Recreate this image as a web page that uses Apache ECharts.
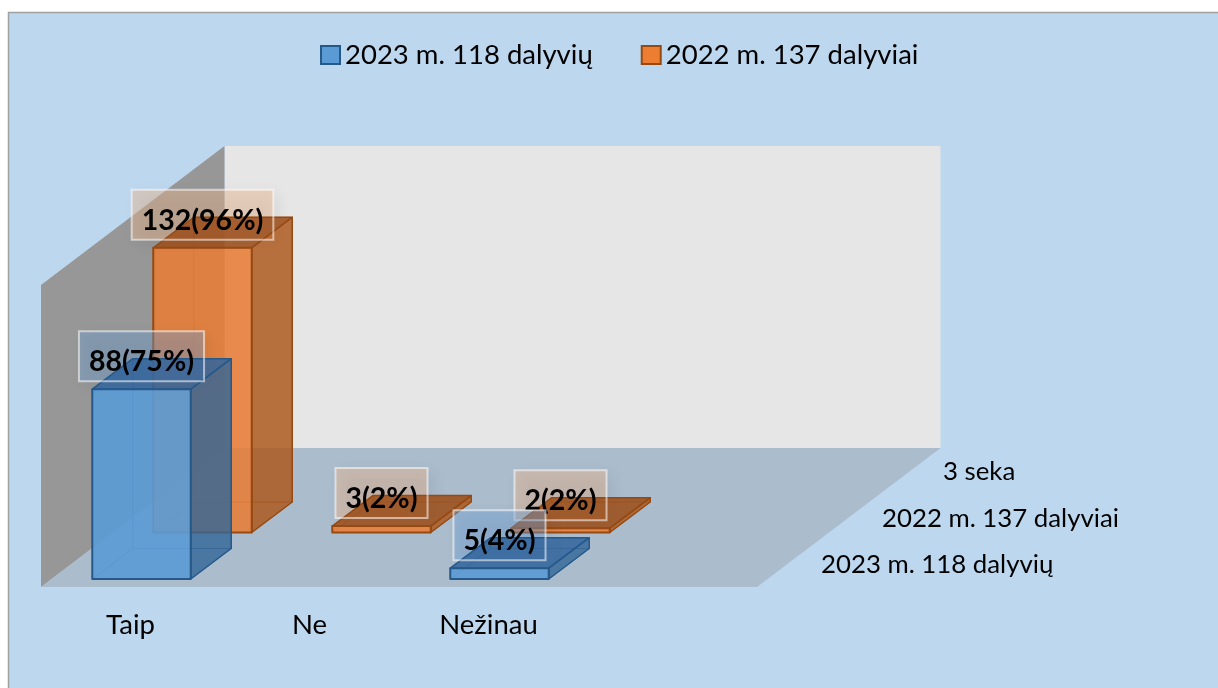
<!DOCTYPE html>
<html>
<head>
<meta charset="utf-8">
<style>html,body{margin:0;padding:0;background:#fff}#c{width:1218px;height:688px}</style>
<script src="https://cdn.jsdelivr.net/npm/echarts@6/dist/echarts.min.js"></script>
</head>
<body>
<div id="c"></div>
<script>
const categories = ['Taip', 'Ne', 'Nežinau', ''];
const seriesNames = ['2023 m. 118 dalyvių', '2022 m. 137 dalyviai'];
const depthNames = ['2023 m. 118 dalyvių', '2022 m. 137 dalyviai', '3 seka'];
const values2023 = [88, null, 5];
const values2022 = [132, 3, 2];
const labels2023 = ['88(75%)', '', '5(4%)'];
const labels2022 = ['132(96%)', '3(2%)', '2(2%)'];
const yMax = 140;

const FONT = 'Lato, "Open Sans", sans-serif';
const LABEL_FONT = 'bold 28.5px ' + FONT;
const FLOOR_DX = 183.5, FLOOR_DY = -139;
const ROW_DX = 61, ROW_DY = -46.5;
const BAR_DX = 40.5, BAR_DY = -30.5;

const chart = echarts.init(document.getElementById('c'), null, { renderer: 'canvas' });
const measureCtx = document.createElement('canvas').getContext('2d');

function poly(points, fill, stroke, lw) {
  return { type: 'polygon', shape: { points }, style: { fill, stroke: stroke || 'none', lineWidth: lw || 0, lineJoin: 'round' } };
}

function renderWalls(params, api) {
  const cs = params.coordSys;
  const x0 = cs.x, x1 = cs.x + cs.width, yB = cs.y + cs.height, yT = cs.y;
  const children = [
    poly([[x0 + FLOOR_DX, yT + FLOOR_DY], [x1 + FLOOR_DX, yT + FLOOR_DY], [x1 + FLOOR_DX, yB + FLOOR_DY], [x0 + FLOOR_DX, yB + FLOOR_DY]], '#E6E6E6'),
    poly([[x0, yT], [x0 + FLOOR_DX, yT + FLOOR_DY], [x0 + FLOOR_DX, yB + FLOOR_DY], [x0, yB]], '#979797'),
    poly([[x0, yB], [x1, yB], [x1 + FLOOR_DX, yB + FLOOR_DY], [x0 + FLOOR_DX, yB + FLOOR_DY]], '#ABBCCD')
  ];
  depthNames.forEach((name, i) => {
    children.push({
      type: 'text',
      style: { x: x1 + 64 + i * ROW_DX, y: yB - 22 + i * ROW_DY, text: name, fill: '#000', font: '25.8px ' + FONT, textAlign: 'left', textVerticalAlign: 'middle' }
    });
  });
  return { type: 'group', children };
}

function makeBarRenderer(row, labels, c) {
  return function (params, api) {
    const i = api.value(0), v = api.value(1);
    const band = api.size([1, 0])[0];
    const w = band * 0.55;
    const oX = 11 + row * ROW_DX, oY = -8 + row * ROW_DY;
    const base = api.coord([i, 0]);
    const top = api.coord([i, v]);
    const xL = base[0] + oX - w / 2, xR = xL + w;
    const yB = base[1] + oY, yT = top[1] + oY;
    const d = (p) => [p[0] + BAR_DX, p[1] + BAR_DY];
    const fBL = [xL, yB], fBR = [xR, yB], fTR = [xR, yT], fTL = [xL, yT];
    const bBL = d(fBL), bBR = d(fBR), bTR = d(fTR), bTL = d(fTL);
    const cx = (xL + xR) / 2, cy = yT - 33;
    const text = labels[i];
    measureCtx.font = LABEL_FONT;
    const boxW = measureCtx.measureText(text).width + 20;
    const boxShape = { x: cx - boxW / 2, y: cy - 25, width: boxW, height: 50 };
    return {
      type: 'group',
      children: [
        { type: 'rect', shape: boxShape,
          style: { fill: c.labelFill, shadowBlur: 14, shadowOffsetX: 5, shadowOffsetY: 4, shadowColor: 'rgba(0,0,0,0.16)' } },
        poly([bBL, bBR, bTR, bTL], c.inner, c.edgeSoft, 1),
        poly([fBL, bBL, bTL, fTL], c.inner, c.edgeSoft, 1),
        poly([fBL, fBR, bBR, bBL], c.inner, c.edgeSoft, 1),
        poly([fBR, bBR, bTR, fTR], c.side, c.edge, 1.5),
        poly([fTL, fTR, bTR, bTL], c.top, c.edge, 1.5),
        poly([fBL, fBR, fTR, fTL], c.front, c.edge, 2),
        { type: 'rect', shape: boxShape, style: { fill: 'none', stroke: 'rgba(255,255,255,0.55)', lineWidth: 2 } },
        { type: 'text', style: { x: cx, y: cy + 6, text, fill: '#000', font: LABEL_FONT, textAlign: 'center', textVerticalAlign: 'middle' } }
      ]
    };
  };
}

const blue = { front: 'rgba(91,155,213,0.9)', side: 'rgba(50,100,150,0.78)', top: 'rgba(50,100,155,0.85)', inner: 'rgba(91,155,213,0.12)', edge: '#25598A', edgeSoft: 'rgba(37,89,138,0.45)', labelFill: 'rgba(110,160,215,0.4)' };
const orange = { front: 'rgba(232,125,55,0.86)', side: 'rgba(170,85,25,0.8)', top: 'rgba(155,80,30,0.88)', inner: 'rgba(237,125,49,0.12)', edge: '#964A12', edgeSoft: 'rgba(150,74,18,0.45)', labelFill: 'rgba(235,185,145,0.45)' };

const toData = (vals) => vals.map((v, i) => [i, v]).filter((p) => p[1] !== null);

chart.setOption({
  animation: false,
  backgroundColor: '#ffffff',
  graphic: [{ type: 'rect', z: -10, silent: true, shape: { x: 8.5, y: 12.5, width: 1220, height: 690 },
              style: { fill: '#BDD7EE', stroke: '#A0A0A0', lineWidth: 1.5 } }],
  legend: {
    left: 315, top: 36, itemWidth: 19, itemHeight: 18, itemGap: 48, icon: 'rect',
    textStyle: { fontFamily: FONT, fontSize: 27.5, color: '#000', padding: [0, 0, 0, 0] },
    data: [
      { name: seriesNames[0], itemStyle: { color: '#5B9BD5', borderColor: '#25598A', borderWidth: 2 } },
      { name: seriesNames[1], itemStyle: { color: '#ED7D31', borderColor: '#964A12', borderWidth: 2 } }
    ]
  },
  grid: { left: 41, top: 285, width: 716, height: 302, containLabel: false },
  xAxis: {
    type: 'category', data: categories,
    axisLine: { show: false }, axisTick: { show: false }, splitLine: { show: false },
    axisLabel: { color: '#000', fontFamily: FONT, fontSize: 27.5, margin: 24, interval: 0 }
  },
  yAxis: { type: 'value', min: 0, max: yMax, show: false, splitLine: { show: false } },
  series: [
    { type: 'custom', name: 'walls', z: 1, silent: true, data: [[0, 0]], renderItem: renderWalls },
    { type: 'custom', name: seriesNames[1], z: 2, data: toData(values2022), itemStyle: { color: '#ED7D31' }, renderItem: makeBarRenderer(1, labels2022, orange) },
    { type: 'custom', name: seriesNames[0], z: 3, data: toData(values2023), itemStyle: { color: '#5B9BD5' }, renderItem: makeBarRenderer(0, labels2023, blue) }
  ]
});
</script>
</body>
</html>
